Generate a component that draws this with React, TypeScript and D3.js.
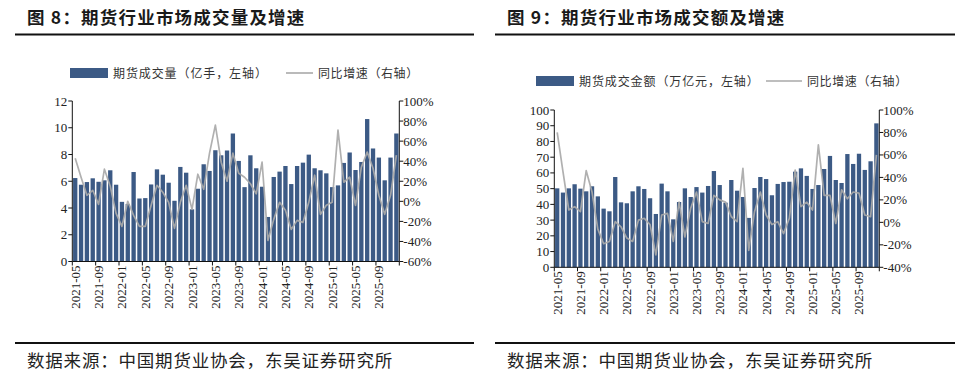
import React from 'react';
import * as d3 from 'd3';

// categories: monthly, 2021-05 .. 2025-12
const months: string[] = d3.timeMonth
  .range(new Date(2021, 4, 1), new Date(2026, 0, 1))
  .map(d3.timeFormat('%Y-%m'));

const tickLabels = ['2021-05', '2021-09', '2022-01', '2022-05', '2022-09', '2023-01', '2023-05',
  '2023-09', '2024-01', '2024-05', '2024-09', '2025-01', '2025-05', '2025-09'];

// 图8: 期货成交量 (亿手) and YoY (%)
const volume = [6.24, 5.74, 5.94, 6.22, 5.96, 6.07, 6.82, 5.74, 4.46, 4.3,
  6.69, 4.71, 4.74, 5.76, 6.89, 6.49, 5.89, 4.54, 7.07, 6.64,
  3.9, 5.44, 7.27, 6.77, 8.32, 7.94, 8.3, 9.57, 7.52, 5.56,
  7.94, 6.97, 5.59, 3.33, 6.32, 6.72, 7.14, 5.79, 7.14, 7.39,
  7.99, 6.97, 6.82, 6.59, 5.56, 5.69, 7.37, 8.15, 6.84, 7.44,
  10.65, 8.45, 7.77, 6.07, 7.77, 9.57];
const volumeYoy = [43, 24, 6, 11, -3, 32, 15, -12, -25, 0,
  -14, -25, -25, -4, 16, 9, -1, -27, -1, 16,
  -8, 27, 12, 48, 76, 39, 20, 48, 28, 24,
  17.5, 7.5, 39, -39, -18, -1, -9, -28, -19, -21,
  -1, 26, -13, -4, -1, 71, 19, 24, -4, 34,
  49, 33, 6, -13, 6, 46];

// 图9: 期货成交金额 (万亿元) and YoY (%)
const turnover = [50.2, 47.5, 50.2, 52.8, 50.0, 48.3, 51.5, 45.1, 37.3, 35.6,
  57.4, 41.3, 40.7, 48.3, 51.5, 49.8, 43.9, 33.9, 53.2, 48.3,
  30.5, 41.5, 50.2, 44.7, 51.0, 47.5, 51.7, 61.2, 52.3, 41.1,
  55.5, 48.7, 44.7, 31.4, 50.4, 57.4, 56.1, 45.8, 53.0, 54.2,
  54.4, 60.8, 62.9, 58.1, 49.8, 52.3, 62.5, 70.8, 55.5, 53.6,
  72.0, 65.7, 72.2, 61.9, 67.4, 91.5];
const turnoverYoy = [80, 45, 11, 14, 9.5, 46, 27, -6, -19, -17,
  0.6, -4, -14, -17, 2, 3.6, -2, -29, 6.5, 8,
  -17, 18, -13, 12.5, 27, 0.6, -1, 24, 20, 18,
  5, 0.6, 48, -25, 9.5, 27, 6.5, -2, 0.6, -10,
  3.6, 46.6, 14, 18, 11, 69, 24, 24, -1, 29,
  21, 27, 26, 6.5, 5, 60];

const BAR = '#3c5a85';
const LINE = '#a9a9a9';
const CJK = '"Noto Sans CJK SC", sans-serif';
const NUM = '"Liberation Serif", "Times New Roman", serif';

type PanelProps = {
  left: number; right: number;
  title: string; barName: string; lineName: string;
  bars: number[]; yoy: number[];
  x0: number; x1: number; yTop: number; yBot: number;
  leftMax: number; leftStep: number;
  rightMin: number; rightMax: number;
  legY: number; legRect: number; legLine: number; legLineW: number;
};

const Panel = (p: PanelProps) => {
  const x = d3.scaleBand<string>().domain(months).range([p.x0, p.x1]).paddingInner(0.26).paddingOuter(0.13);
  const yL = d3.scaleLinear().domain([0, p.leftMax]).range([p.yBot, p.yTop]);
  const yR = d3.scaleLinear().domain([p.rightMin, p.rightMax]).range([p.yBot, p.yTop]);
  const step = x.step();
  const leftTicks = d3.range(0, p.leftMax + 0.001, p.leftStep);
  const rightTicks = d3.range(p.rightMin, p.rightMax + 0.001, 20);
  const line = d3.line<number>()
    .x((_, i) => (x(months[i]) as number) + x.bandwidth() / 2)
    .y(d => yR(d));
  const boundaries = d3.range(0, months.length + 1, 4).map(i => p.x0 + i * step);

  return (
    <g>
      <text x={p.left + 12} y={24} fontFamily={CJK} fontWeight={700} fontSize={17.5} letterSpacing={1.2} fill="#1a1a1a">{p.title}</text>
      <line x1={p.left} x2={p.right} y1={34.5} y2={34.5} stroke="#111" strokeWidth={2} />

      {/* legend */}
      <rect x={p.legRect} y={p.legY - 5} width={38} height={10} fill={BAR} />
      <text x={p.legRect + 43} y={p.legY + 4.5} fontFamily={CJK} fontSize={12} letterSpacing={0.9} fill="#333">{p.barName}</text>
      <line x1={p.legLine} x2={p.legLine + p.legLineW} y1={p.legY} y2={p.legY} stroke={LINE} strokeWidth={1.6} />
      <text x={p.legLine + p.legLineW + 5} y={p.legY + 4.5} fontFamily={CJK} fontSize={12} letterSpacing={0.6} fill="#333">{p.lineName}</text>

      {p.bars.map((v, i) => (
        <rect key={i} x={x(months[i])} y={yL(v)} width={x.bandwidth()} height={yL(0) - yL(v)} fill={BAR} />
      ))}
      <path d={line(p.yoy) || ''} fill="none" stroke={LINE} strokeWidth={1.7} strokeOpacity={0.92} strokeLinejoin="round" />

      {/* left axis */}
      <line x1={p.x0} x2={p.x0} y1={p.yTop} y2={p.yBot} stroke="#111" />
      {leftTicks.map(t => (
        <g key={t}>
          <line x1={p.x0 - 4} x2={p.x0} y1={yL(t)} y2={yL(t)} stroke="#111" />
          <text x={p.x0 - 5} y={yL(t) + 4.5} textAnchor="end" fontFamily={NUM} fontSize={13} fill="#222">{t}</text>
        </g>
      ))}
      {/* right axis */}
      <line x1={p.x1} x2={p.x1} y1={p.yTop} y2={p.yBot} stroke="#111" />
      {rightTicks.map(t => (
        <g key={t}>
          <line x1={p.x1} x2={p.x1 + 4} y1={yR(t)} y2={yR(t)} stroke="#111" />
          <text x={p.x1 + 4} y={yR(t) + 4.5} fontFamily={NUM} fontSize={13} fill="#222">{t}%</text>
        </g>
      ))}
      {/* x axis */}
      <line x1={p.x0} x2={p.x1} y1={p.yBot} y2={p.yBot} stroke="#111" />
      {boundaries.map((b, i) => (
        <line key={i} x1={b} x2={b} y1={p.yBot} y2={p.yBot + 4} stroke="#111" />
      ))}
      {tickLabels.map(l => {
        const cx = (x(l) as number) + x.bandwidth() / 2;
        return (
          <text key={l} transform={`translate(${cx + 4.5},${p.yBot + 4}) rotate(-90)`} textAnchor="end"
            fontFamily={NUM} fontSize={13} fill="#222">{l}</text>
        );
      })}

      <line x1={p.left} x2={p.right} y1={343} y2={343} stroke="#111" strokeWidth={2} />
      <text x={p.left + 12} y={367} fontFamily={CJK} fontSize={17.5} letterSpacing={0.8} fill="#222">数据来源：中国期货业协会，东吴证券研究所</text>
    </g>
  );
};

export default function App() {
  return (
    <svg width={964} height={386} style={{ position: 'absolute', left: 0, top: 0, background: '#fff' }}>
      <rect width={964} height={386} fill="#fff" />
      <Panel left={15} right={474} title="图 8：期货行业市场成交量及增速"
        barName="期货成交量（亿手，左轴）" lineName="同比增速（右轴）"
        bars={volume} yoy={volumeYoy}
        x0={72.3} x1={399.3} yTop={101} yBot={261.5}
        leftMax={12} leftStep={2} rightMin={-60} rightMax={100}
        legY={73} legRect={70} legLine={286} legLineW={27} />
      <Panel left={495} right={955} title="图 9：期货行业市场成交额及增速"
        barName="期货成交金额（万亿元，左轴）" lineName="同比增速（右轴）"
        bars={turnover} yoy={turnoverYoy}
        x0={554.3} x1={879.3} yTop={110} yBot={267.3}
        leftMax={100} leftStep={10} rightMin={-40} rightMax={100}
        legY={81} legRect={536} legLine={766} legLineW={36} />
    </svg>
  );
}
